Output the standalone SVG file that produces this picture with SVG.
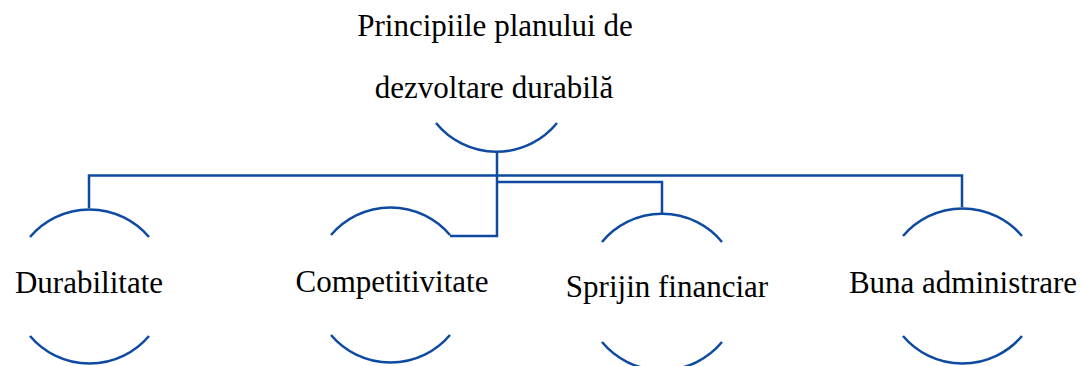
<svg xmlns="http://www.w3.org/2000/svg" width="1082" height="366" viewBox="0 0 1082 366">
<style>
.br{fill:none;stroke:#0e4aa0;stroke-width:2.5}
.cn{fill:none;stroke:#0e4aa0;stroke-width:2.5}
text{font-family:"Liberation Serif","Times New Roman",serif;font-size:31px;fill:#000;text-anchor:middle}
</style>
<rect width="1082" height="366" fill="#fff"/>
<g id="root">
<text x="495" y="36">Principiile planului de</text>
<text x="494" y="98">dezvoltare durabilă</text>
<path class="br" d="M436,123 A78,78 0 0 0 557,123"/>
</g>
<g id="n1">
<path class="br" d="M30,237 A78,78 0 0 1 149,237"/>
<text x="89" y="293">Durabilitate</text>
<path class="br" d="M30,336 A78,78 0 0 0 149,336"/>
</g>
<g id="n2">
<path class="br" d="M331,235 A78,78 0 0 1 450,235"/>
<text x="392" y="292">Competitivitate</text>
<path class="br" d="M331,335 A78,78 0 0 0 450,335"/>
</g>
<g id="n3">
<path class="br" d="M602,242 A78,78 0 0 1 722,242"/>
<text x="667" y="297">Sprijin financiar</text>
<path class="br" d="M602,342 A78,78 0 0 0 722,342"/>
</g>
<g id="n4">
<path class="br" d="M903,236 A78,78 0 0 1 1022,236"/>
<text x="963" y="293">Buna administrare</text>
<path class="br" d="M903,336 A78,78 0 0 0 1022,336"/>
</g>
<g id="connectors">
<path class="cn" d="M497,151 V236 H450"/>
<path class="cn" d="M89,208 V175.5 H962 V207"/>
<path class="cn" d="M497,182 H662 V214"/>
</g>
</svg>
